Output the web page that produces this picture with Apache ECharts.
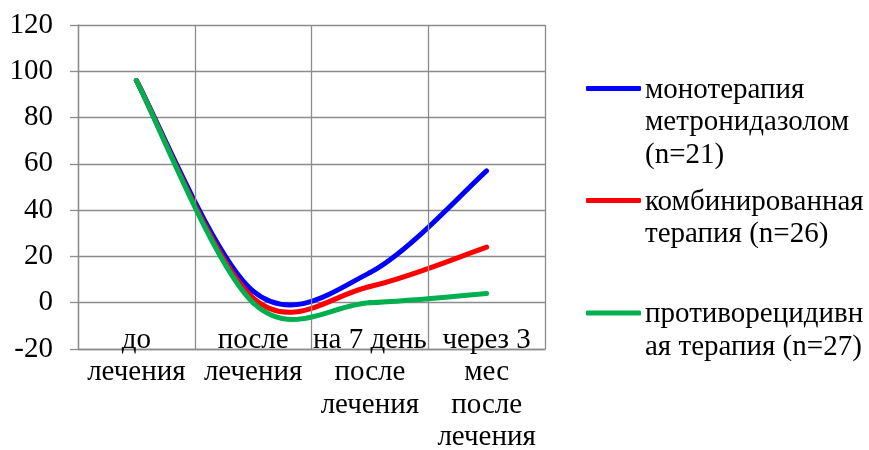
<!DOCTYPE html>
<html>
<head>
<meta charset="utf-8">
<script src="https://cdn.jsdelivr.net/npm/echarts@6/dist/echarts.min.js"></script>
<style>
  html, body { margin: 0; padding: 0; background: #fff; }
  #chart { width: 869px; height: 450px; }
</style>
</head>
<body>
<div id="chart"></div>
<script>
// Time points (x axis) and the share of patients per group at each point
const categories = ['до\nлечения', 'после\nлечения', 'на 7 день\nпосле\nлечения', 'через 3\nмес\nпосле\nлечения'];
const monoValues = [96, 5, 13, 57];
const combinedValues = [96, 2, 7, 24];
const antiRelapseValues = [96, 0, 0, 4];

const seriesNames = ['монотерапия метронидазолом (n=21)', 'комбинированная терапия (n=26)', 'противорецидивная терапия (n=27)'];
const legendLines = [
  ['монотерапия', 'метронидазолом', '(n=21)'],
  ['комбинированная', 'терапия (n=26)'],
  ['противорецидивн', 'ая терапия (n=27)']
];
const seriesColors = ['#0000ff', '#ff0000', '#00b050'];

const yMin = -20, yMax = 120, yStep = 20;

const FONT = 'Liberation Serif';
const FONT_SIZE = 29;
const LINE_H = 32.5;
const GRID_COLOR = '#8c8c8c';

// Smooth line through the points: Catmull-Rom segments drawn as cubic Béziers,
// positioned through the axes with api.coord.
function splineRenderer(values, color) {
  const n = values.length;
  const at = k => Math.max(0, Math.min(n - 1, k));
  return function (params, api) {
    const i = params.dataIndex;
    if (i >= n - 1) return null;
    const pt = k => api.coord([at(k), values[at(k)]]);
    const p0 = pt(i - 1), p1 = pt(i), p2 = pt(i + 1), p3 = pt(i + 2);
    return {
      type: 'bezierCurve',
      shape: {
        x1: p1[0], y1: p1[1],
        cpx1: p1[0] + (p2[0] - p0[0]) / 6, cpy1: p1[1] + (p2[1] - p0[1]) / 6,
        cpx2: p2[0] - (p3[0] - p1[0]) / 6, cpy2: p2[1] - (p3[1] - p1[1]) / 6,
        x2: p2[0], y2: p2[1]
      },
      style: { stroke: color, lineWidth: 5, fill: null, lineCap: 'round' },
      silent: true
    };
  };
}

const allValues = [monoValues, combinedValues, antiRelapseValues];

const series = allValues.map((vals, s) => ({
  name: seriesNames[s],
  type: 'custom',
  coordinateSystem: 'cartesian2d',
  itemStyle: { color: seriesColors[s] },
  data: vals.map((v, i) => [i, v]),
  encode: { x: 0, y: 1 },
  renderItem: splineRenderer(vals, seriesColors[s]),
  z: 3 + s
}));

// Legend: the component draws the line keys; the wrapped serif captions sit
// beside them, first caption line level with its key.
const legendKeyY = [88.5, 200.5, 313];
const legends = seriesNames.map((name, s) => ({
  data: [{ name: name, icon: 'roundRect' }],
  orient: 'vertical',
  left: 586,
  top: legendKeyY[s] - 2.5,
  padding: 0,
  itemWidth: 55,
  itemHeight: 5,
  selectedMode: false,
  formatter: () => '',
  textStyle: { fontSize: 1, lineHeight: 1 }
}));

const captions = legendLines.map((lines, s) => ({
  type: 'text',
  left: 645,
  top: legendKeyY[s] - LINE_H / 2 + 1.5,
  silent: true,
  style: {
    text: lines.join('\n'),
    fontFamily: FONT,
    fontSize: FONT_SIZE,
    lineHeight: LINE_H,
    fill: '#000'
  }
}));

const chart = echarts.init(document.getElementById('chart'), null, { renderer: 'canvas' });
chart.setOption({
  animation: false,
  backgroundColor: '#ffffff',
  textStyle: { fontFamily: FONT },
  grid: { left: 78, right: 324, top: 25, bottom: 101, containLabel: false, outerBoundsMode: 'none' },
  legend: legends,
  graphic: captions,
  xAxis: {
    type: 'category',
    data: categories,
    boundaryGap: true,
    axisLine: { show: true, onZero: false, lineStyle: { color: GRID_COLOR, width: 1.3 } },
    axisTick: { show: false },
    splitLine: { show: true, interval: 0, lineStyle: { color: GRID_COLOR, width: 1.3 } },
    axisLabel: {
      interval: 0,
      margin: -25,
      fontFamily: FONT,
      fontSize: FONT_SIZE,
      color: '#000',
      lineHeight: 32.5
    },
    z: 5
  },
  yAxis: {
    type: 'value',
    min: yMin,
    max: yMax,
    interval: yStep,
    axisLine: { show: true, lineStyle: { color: GRID_COLOR, width: 1.3 } },
    axisTick: { show: true, length: 8, lineStyle: { color: GRID_COLOR, width: 1.3 } },
    splitLine: { show: true, lineStyle: { color: GRID_COLOR, width: 1.3 } },
    axisLabel: {
      margin: 25,
      fontFamily: FONT,
      fontSize: FONT_SIZE,
      color: '#000'
    }
  },
  series: series
});
</script>
</body>
</html>
